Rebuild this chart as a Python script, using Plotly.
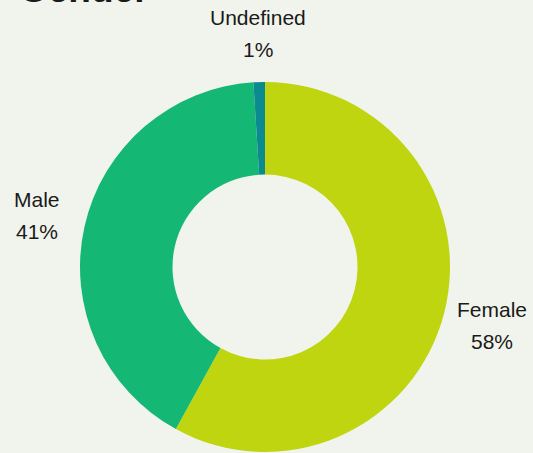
import math
import plotly.graph_objects as go

labels = ["Female", "Male", "Undefined"]
values = [58, 41, 1]
colors = ["#bed50f", "#14b874", "#0b8a8f"]

W, H = 533, 453
cx, cy, r = 265, 267, 185
label_r = r + 49
FONT = "Liberation Sans, Arial, sans-serif"

fig = go.Figure(go.Pie(
    labels=labels,
    values=values,
    hole=0.5,
    sort=False,
    direction="clockwise",
    rotation=0,
    marker=dict(colors=colors, line=dict(width=0)),
    textinfo="none",
    showlegend=False,
    hoverinfo="label+percent",
    domain=dict(x=[(cx - r) / W, (cx + r) / W], y=[1 - (cy + r) / H, 1 - (cy - r) / H]),
))

total = sum(values)
cum = 0
for lab, v in zip(labels, values):
    mid = (cum + v / 2) / total * 2 * math.pi
    cum += v
    px = cx + label_r * math.sin(mid)
    py = cy - label_r * math.cos(mid)
    pct = f"{round(v / total * 100)}%"
    for txt, shift in ((lab, 16), (pct, -16)):
        fig.add_annotation(
            text=txt, xref="paper", yref="paper", x=px / W, y=1 - py / H,
            xanchor="center", yanchor="middle", yshift=shift, showarrow=False,
            font=dict(family=FONT, size=21, color="#1a1a1a"),
        )

fig.add_annotation(
    text="<b>Gender</b>", xref="paper", yref="paper", x=0.032, y=1,
    xanchor="left", yanchor="bottom", yshift=-11.5, showarrow=False,
    font=dict(family=FONT, size=37, color="#1a1a1a"),
)

fig.update_layout(
    width=W, height=H,
    margin=dict(l=0, r=0, t=0, b=0, autoexpand=False),
    paper_bgcolor="#f1f4ec",
    plot_bgcolor="#f1f4ec",
)

fig.write_html("out.html")
